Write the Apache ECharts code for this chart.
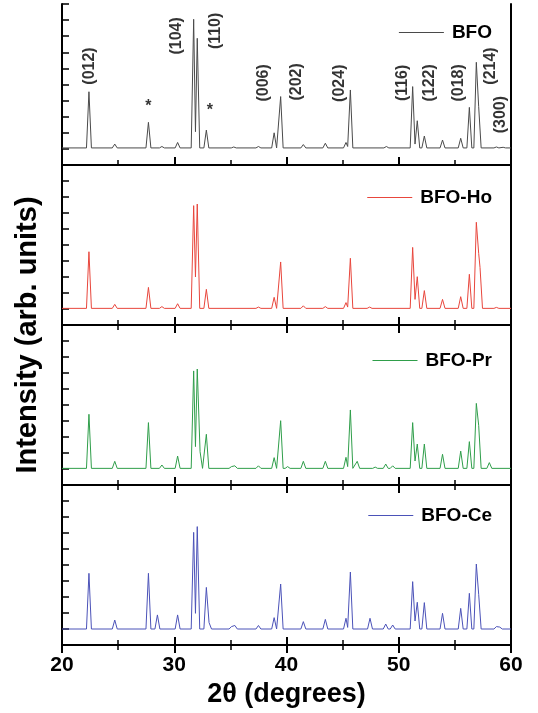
<!DOCTYPE html>
<html>
<head>
<meta charset="utf-8">
<script src="https://cdn.jsdelivr.net/npm/echarts@6/dist/echarts.min.js"></script>
<style>html,body{margin:0;padding:0;background:#fff}#c{width:538px;height:713px}</style>
</head>
<body>
<div id="c"></div>
<script>
// ---- data ----
const seriesNames = ['BFO', 'BFO-Ho', 'BFO-Pr', 'BFO-Ce'];
const xTickLabels = [20, 30, 40, 50, 60];
const baselines = [1.06, 1.04, 1.04, 1.0];

// [2theta, intensity] peak tops (and valley points) per sample
const peaksBFO = [[22.4,4.55],[24.7,1.3],[27.7,2.65],[28.9,1.15],[30.3,1.4],[31.73,9.05],[31.89,2.07],[32.05,7.87],[32.86,2.17],[35.3,1.12],[37.5,1.15],[38.9,2.0],[39.48,4.25],[41.5,1.27],[43.46,1.35],[45.3,1.4],[45.45,1.15],[45.69,4.66],[48.9,1.15],[51.24,4.87],[51.45,1.3],[51.65,2.75],[52.28,1.8],[53.9,1.55],[55.52,1.66],[56.29,3.58],[56.91,6.38],[57.12,3.62],[58.7,1.12],[59.3,1.1]];
const peaksHo = [[22.4,4.58],[24.7,1.29],[27.7,2.35],[28.9,1.15],[30.3,1.33],[31.73,7.46],[31.89,3.0],[32.05,7.56],[32.86,2.23],[37.5,1.12],[38.9,1.73],[39.48,3.94],[41.5,1.2],[43.46,1.15],[45.3,1.4],[45.45,1.12],[45.69,4.17],[47.4,1.12],[51.24,4.85],[51.45,1.6],[51.65,3.02],[52.28,2.15],[53.9,1.6],[55.52,1.77],[56.29,3.17],[56.91,6.42],[57.12,4.48],[57.24,3.6],[58.7,1.1]];
const peaksPr = [[22.4,4.42],[24.7,1.48],[27.7,3.9],[28.9,1.25],[30.3,1.81],[31.73,7.13],[31.89,2.4],[32.05,7.25],[32.3,2.08],[32.86,3.17],[35.1,1.15],[35.4,1.2],[37.5,1.2],[38.9,1.71],[39.48,4.02],[40.1,1.15],[41.5,1.48],[43.46,1.48],[45.3,1.73],[45.45,1.15],[45.69,4.69],[46.3,1.48],[47.9,1.12],[48.84,1.31],[49.46,1.2],[51.24,3.9],[51.45,1.5],[51.65,2.56],[52.28,2.56],[53.9,1.92],[55.52,2.12],[56.29,2.71],[56.91,5.1],[57.12,3.73],[58.07,1.4]];
const peaksCe = [[22.4,4.48],[24.7,1.56],[27.7,4.48],[28.5,1.88],[30.3,1.88],[31.73,7.04],[31.89,1.98],[32.05,7.4],[32.86,3.6],[33.1,1.4],[35.1,1.15],[35.4,1.22],[37.5,1.22],[38.9,1.71],[39.48,3.81],[41.5,1.46],[43.46,1.6],[45.3,1.67],[45.45,1.1],[45.69,4.56],[47.44,1.67],[48.84,1.31],[49.46,1.25],[51.24,3.96],[51.45,1.5],[51.65,2.67],[52.28,2.65],[53.9,1.98],[55.52,2.29],[56.29,3.23],[56.91,5.06],[57.12,3.17],[58.7,1.15],[59.0,1.12]];

// Miller index annotations on the BFO panel: [text, 2theta, y]
const hklLabels = [['(012)',22.49,6.15],['(104)',30.22,8.02],['(110)',33.72,8.33],['(006)',37.93,5.1],['(202)',40.91,5.16],['(024)',44.77,5.08],['(116)',50.35,5.1],['(122)',52.78,5.1],['(018)',55.3,5.1],['(214)',58.22,6.15],['(300)',59.08,3.13]];
const starLabels = [['*',27.69,3.64],['*',33.18,3.38]];

// ---- build ----
const colors = ['#4a4a4a', '#e8463c', '#2f9e4a', '#4b52b8'];
const allPeaks = [peaksBFO, peaksHo, peaksPr, peaksCe];
const W = 0.22;
function profile(peaks, base) {
  const pts = [[20, base]];
  for (let i = 0; i < peaks.length; i++) {
    const [x, h] = peaks[i];
    if (i === 0 || x - peaks[i-1][0] > 2*W) pts.push([x - W, base]);
    pts.push([x, h]);
    if (i === peaks.length - 1 || peaks[i+1][0] - x > 2*W) pts.push([x + W, base]);
  }
  pts.push([60, base]);
  return pts;
}

const tops = [4, 165, 325, 485];
const heights = [161, 160, 160, 160];
const FONT = "'Liberation Sans', Arial, sans-serif";
const grids = [], xAxes = [], yAxes = [], series = [], legends = [];
const legendTops = [18, 183, 346, 501];

for (let g = 0; g < 4; g++) {
  grids.push({left: 62, right: 27, top: tops[g], height: heights[g], show: false});
  const last = g === 3;
  xAxes.push({
    gridIndex: g, type: 'value', min: 20, max: 60, interval: 10, position: 'bottom',
    axisLine: {show: true, lineStyle: {color: '#000', width: 2}},
    axisTick: {show: true, inside: true, length: 8, lineStyle: {color: '#000', width: 2}},
    minorTick: {show: true, splitNumber: 2, length: 5, lineStyle: {color: '#000', width: 1.5}},
    axisLabel: {show: last, margin: 10, color: '#000', fontSize: 21, fontWeight: 'bold', fontFamily: FONT,
      formatter: v => xTickLabels.includes(v) ? String(v) : ''},
    splitLine: {show: false},
    name: last ? '2θ (degrees)' : '', nameLocation: 'middle', nameGap: 36,
    nameTextStyle: {color: '#000', fontSize: 27, fontWeight: 'bold', fontFamily: FONT}
  });
  xAxes.push({
    gridIndex: g, type: 'value', min: 20, max: 60, interval: 10, position: 'top',
    axisLine: {show: true, lineStyle: {color: '#000', width: 2}},
    axisTick: {show: g > 0, inside: true, length: 8, lineStyle: {color: '#000', width: 2}},
    minorTick: {show: g > 0, splitNumber: 2, length: 5, lineStyle: {color: '#000', width: 1.5}},
    axisLabel: {show: false}, splitLine: {show: false}
  });
  yAxes.push({
    gridIndex: g, type: 'value', min: 0, max: 10, interval: 1, position: 'left',
    axisLine: {show: true, lineStyle: {color: '#000', width: 2}},
    axisTick: {show: true, inside: true, length: 7, lineStyle: {color: '#000', width: 1.5}},
    axisLabel: {show: false}, splitLine: {show: false}
  });
  yAxes.push({
    gridIndex: g, type: 'value', min: 0, max: 10, position: 'right',
    axisLine: {show: true, lineStyle: {color: '#000', width: 2}},
    axisTick: {show: false}, axisLabel: {show: false}, splitLine: {show: false}
  });
  series.push({
    name: seriesNames[g], type: 'line', xAxisIndex: 2*g, yAxisIndex: 2*g,
    data: profile(allPeaks[g], baselines[g]), showSymbol: false, symbol: 'none',
    color: colors[g], lineStyle: {color: colors[g], width: 1}, animation: false, silent: true
  });
  legends.push({
    data: [seriesNames[g]], right: 41, top: legendTops[g], icon: 'rect',
    itemWidth: 45, itemHeight: 1, itemGap: 8, selectedMode: false,
    textStyle: {color: '#000', fontSize: 19, fontWeight: 'bold', fontFamily: FONT, padding: [0,0,0,3]}
  });
}

const labelStyle = {show: true, position: 'inside', color: '#000', fontSize: 16, fontWeight: 'bold',
  fontFamily: FONT, align: 'center', verticalAlign: 'middle'};
const annot = hklLabels.map(([t, x, y]) => ({value: [x, y], name: t,
    label: Object.assign({}, labelStyle, {rotate: 90, formatter: t})}))
  .concat(starLabels.map(([t, x, y]) => ({value: [x, y], name: t,
    label: Object.assign({}, labelStyle, {rotate: 0, formatter: t})})));
series.push({
  type: 'scatter', xAxisIndex: 0, yAxisIndex: 0, data: annot, symbolSize: 1,
  itemStyle: {color: 'rgba(0,0,0,0)'}, animation: false, silent: true,
  label: labelStyle
});

const chart = echarts.init(document.getElementById('c'), null, {renderer: 'canvas'});
chart.setOption({
  animation: false,
  grid: grids, xAxis: xAxes, yAxis: yAxes, series: series, legend: legends,
  graphic: [{
    type: 'text', rotation: Math.PI/2,
    x: 28, y: 335,
    style: {text: 'Intensity (arb. units)', fill: '#000', fontSize: 29, fontWeight: 'bold', fontFamily: FONT,
      align: 'center', verticalAlign: 'middle'}
  }]
});
</script>
</body>
</html>
